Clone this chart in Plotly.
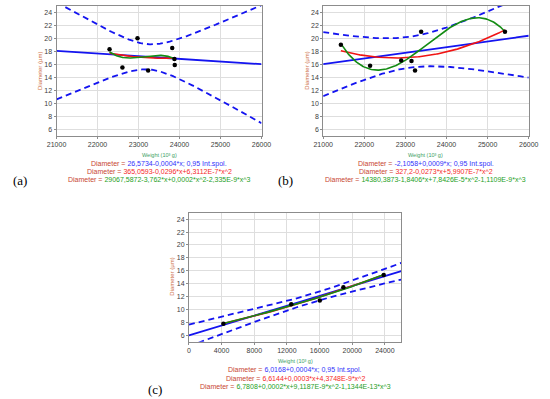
import numpy as np
import plotly.graph_objects as go

# ---------------- data ----------------
a_weight = [22293, 22607, 22975, 23234, 23822, 23876, 23884]
a_diam = [18.3, 15.5, 20.0, 15.05, 18.5, 16.8, 15.9]

b_weight = [21430, 22141, 22898, 23148, 23234, 23383, 25422]
b_diam = [19.0, 15.8, 16.6, 16.5, 15.05, 21.0, 21.0]

c_weight = [4217, 12530, 16024, 18916, 23855]
c_diam = [7.8, 10.8, 11.4, 13.45, 15.35]

a_eqs = ["26,5734-0,0004*x; 0,95 Int.spol.",
         "365,0593-0,0296*x+6,3112E-7*x^2",
         "29067,5872-3,762*x+0,0002*x^2-2,335E-9*x^3"]
b_eqs = ["-2,1058+0,0009*x; 0,95 Int.spol.",
         "327,2-0,0273*x+5,9907E-7*x^2",
         "14380,3873-1,8406*x+7,8426E-5*x^2-1,1109E-9*x^3"]
c_eqs = ["6,0168+0,0004*x; 0,95 Int.spol.",
         "6,6144+0,0003*x+4,3748E-9*x^2",
         "6,7808+0,0002*x+9,1187E-9*x^2-1,1344E-13*x^3"]

ab_xticks = [21000, 22000, 23000, 24000, 25000, 26000]
c_xticks = [0, 4000, 8000, 12000, 16000, 20000, 24000]
y_ticks = [6, 8, 10, 12, 14, 16, 18, 20, 22, 24]

# t(0.975) for df = n-2
t975 = {3: 3.1824, 5: 2.5706}

BLUE = "rgb(20,20,240)"
RED = "rgb(240,20,20)"
GREEN = "rgb(20,140,20)"
FONT = "Liberation Sans, Arial, sans-serif"

fig = go.Figure()


def add_panel(idx, xs, ys, xrange_, xticks, dom_x, dom_y):
    xs = np.array(xs, float)
    ys = np.array(ys, float)
    n = len(xs)
    xa = "x" if idx == 1 else f"x{idx}"
    ya = "y" if idx == 1 else f"y{idx}"
    # linear fit + 95% confidence band for the mean
    lin = np.polynomial.Polynomial.fit(xs, ys, 1)
    resid = ys - lin(xs)
    s = np.sqrt(np.sum(resid ** 2) / (n - 2))
    xm = xs.mean()
    sxx = np.sum((xs - xm) ** 2)
    gx = np.linspace(xrange_[0], xrange_[1], 300)
    hw = t975[n - 2] * s * np.sqrt(1.0 / n + (gx - xm) ** 2 / sxx)
    for sign in (1, -1):
        fig.add_trace(go.Scatter(x=gx, y=lin(gx) + sign * hw, mode="lines",
                                 line=dict(color=BLUE, width=1.8, dash="6px,4px"),
                                 xaxis=xa, yaxis=ya, showlegend=False, hoverinfo="skip"))
    fig.add_trace(go.Scatter(x=gx, y=lin(gx), mode="lines",
                             line=dict(color=BLUE, width=1.8),
                             xaxis=xa, yaxis=ya, showlegend=False))
    dx = np.linspace(xs.min(), xs.max(), 200)
    quad = np.polynomial.Polynomial.fit(xs, ys, 2)
    cub = np.polynomial.Polynomial.fit(xs, ys, 3)
    fig.add_trace(go.Scatter(x=dx, y=quad(dx), mode="lines",
                             line=dict(color=RED, width=1.6),
                             xaxis=xa, yaxis=ya, showlegend=False))
    fig.add_trace(go.Scatter(x=dx, y=cub(dx), mode="lines",
                             line=dict(color=GREEN, width=1.6),
                             xaxis=xa, yaxis=ya, showlegend=False))
    fig.add_trace(go.Scatter(x=xs, y=ys, mode="markers",
                             marker=dict(color="black", size=4.5),
                             xaxis=xa, yaxis=ya, showlegend=False))
    axcommon = dict(showgrid=True, gridcolor="rgb(222,222,222)", gridwidth=1,
                    showline=True, linecolor="rgb(140,140,140)", linewidth=1, mirror=True,
                    ticks="outside", ticklen=2, tickcolor="rgb(140,140,140)",
                    tickfont=dict(family=FONT, size=7, color="rgb(60,60,60)"),
                    zeroline=False)
    fig.layout[("xaxis" if idx == 1 else f"xaxis{idx}")] = dict(
        domain=dom_x, range=xrange_, tickvals=xticks, tickformat="d",
        anchor=ya, **axcommon)
    fig.layout[("yaxis" if idx == 1 else f"yaxis{idx}")] = dict(
        domain=dom_y, range=[5, 25], tickvals=y_ticks, anchor=xa, **axcommon)


W, H = 550.0, 399.0
dy_top = [1 - 136 / H, 1 - 5.7 / H]
add_panel(1, a_weight, a_diam, [21000, 26000], ab_xticks, [48.3 / W, 261 / W], dy_top)
add_panel(2, b_weight, b_diam, [21000, 26000], ab_xticks, [325 / W, 538.3 / W], dy_top)
add_panel(3, c_weight, c_diam, [0, 26000], c_xticks, [185.7 / W, 406 / W],
          [1 - 341.7 / H, 1 - 212.7 / H])

ann = []


def text(x, y, t, size, color="black", family=FONT, angle=0):
    ann.append(dict(x=x / W, y=1 - y / H, xref="paper", yref="paper", text=t,
                    showarrow=False, xanchor="center", yanchor="middle",
                    textangle=angle, font=dict(family=family, size=size, color=color)))


DIAM_C = "rgb(200,70,50)"
EQ_COLORS = ["rgb(50,50,250)", "rgb(245,40,40)", "rgb(30,160,30)"]


def panel_texts(left, right, top, bottom, eqs, eq_y0, label, label_x, label_y):
    cx = (left + right) / 2
    text(left - 17, (top + bottom) / 2, "Diameter (µm)", 6, "rgb(205,110,70)", angle=-90)
    text(cx, eq_y0 - 9, "Weight (10³ g)", 5.5, "rgb(60,160,100)")
    for i, e in enumerate(eqs):
        t = (f'<span style="color:{DIAM_C}">Diameter = </span>'
             f'<span style="color:{EQ_COLORS[i]}">{e}</span>')
        text(cx, eq_y0 + 8 * i, t, 7)
    text(label_x, label_y, label, 13, "black", family="Liberation Serif, Times New Roman, serif")


panel_texts(48.3, 261, 5.7, 136, a_eqs, 163.5, "(a)", 10, 181)
panel_texts(325, 538.3, 5.7, 136, b_eqs, 163.5, "(b)", 286, 181)
panel_texts(185.7, 406, 212.7, 341.7, c_eqs, 370, "(c)", 150, 389)

fig.update_layout(width=550, height=399, autosize=False,
                  margin=dict(l=0, r=0, t=0, b=0),
                  paper_bgcolor="white", plot_bgcolor="white",
                  annotations=ann, showlegend=False)

fig.write_html("out.html", config={"displayModeBar": False},
               post_script="document.body.style.margin='0px';document.body.style.overflow='hidden';")
